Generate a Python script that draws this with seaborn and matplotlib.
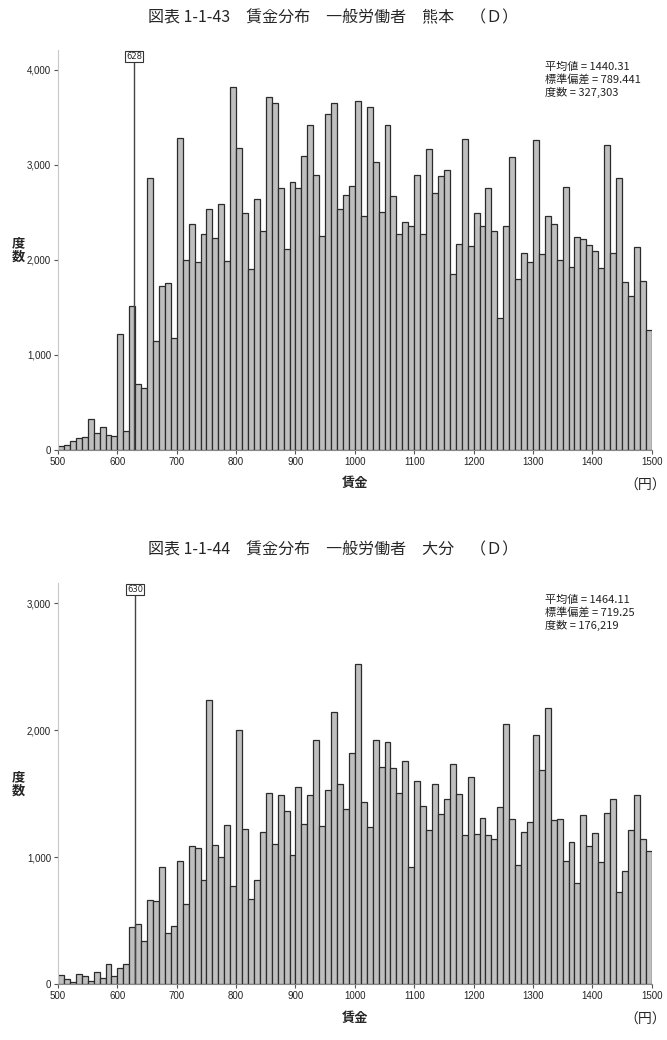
import numpy as np
import pandas as pd
import matplotlib
matplotlib.use('Agg')
import matplotlib.pyplot as plt
import seaborn as sns
from matplotlib.ticker import FuncFormatter

# wage bins (left edges, yen) shared by both panels
bin_left = list(range(500, 1500, 10))

# Kumamoto counts per 10-yen bin
kumamoto_counts = [
    40, 50, 100, 130, 140, 325, 180, 240, 155, 150,
    1220, 200, 1520, 690, 650, 2860, 1150, 1730, 1760, 1180,
    3280, 2000, 2380, 1980, 2270, 2540, 2230, 2590, 1990, 3820,
    3175, 2490, 1905, 2640, 2300, 3712, 3649, 2754, 2116, 2825,
    2754, 3098, 3421, 2898, 2249, 3537, 3656, 2537, 2688, 2782,
    3677, 2460, 3614, 3032, 2502, 3421, 2670, 2274, 2396, 2361,
    2891, 2274, 3165, 2705, 2888, 2947, 1853, 2168, 3270, 2144,
    2491, 2354, 2758, 2309, 1386, 2358, 3081, 1796, 2074, 1975,
    3263, 2063, 2467, 2375, 2004, 2765, 1930, 2246, 2218, 2158,
    2098, 1912, 3211, 2074, 2860, 1772, 1618, 2137, 1779, 1263,
]

# Oita counts per 10-yen bin
oita_counts = [
    75, 42, 21, 84, 66, 26, 94, 52, 157, 68,
    131, 157, 451, 472, 344, 664, 654, 921, 402, 459,
    974, 633, 1089, 1076, 822, 2239, 1094, 1005, 1255, 777,
    2000, 1220, 669, 822, 1197, 1504, 1102, 1491, 1360, 1018,
    1551, 1260, 1486, 1924, 1244, 1533, 2142, 1577, 1381, 1819,
    2522, 1436, 1241, 1921, 1714, 1908, 1703, 1504, 1761, 921,
    1604, 1402, 1215, 1577, 1341, 1462, 1732, 1501, 1173, 1630,
    1181, 1307, 1176, 1144, 1394, 2045, 1302, 940, 1197, 1281,
    1961, 1685, 2171, 1297, 1304, 974, 1123, 800, 1336, 1092,
    1192, 963, 1346, 1459, 724, 892, 1213, 1493, 1142, 1050,
]

titles = ['図表 1-1-43　賃金分布　一般労働者　熊本　（Ｄ）',
          '図表 1-1-44　賃金分布　一般労働者　大分　（Ｄ）']
stats = ['平均値 = 1440.31\n標準偏差 = 789.441\n度数 = 327,303',
         '平均値 = 1464.11\n標準偏差 = 719.25\n度数 = 176,219']
min_wage = [628, 630]

sns.set_style('white')
plt.rcParams['font.family'] = ['Noto Sans CJK JP', 'DejaVu Sans']

fig = plt.figure(figsize=(6.67, 10.40), dpi=100)

panels = [
    dict(rect=[0.087, 0.5673, 0.890, 0.3846], counts=kumamoto_counts, ymax=4210,
         yticks=[0, 1000, 2000, 3000, 4000], title_y=0.983, box_y=4137, line_top=4084),
    dict(rect=[0.087, 0.0536, 0.890, 0.3856], counts=oita_counts, ymax=3157,
         yticks=[0, 1000, 2000, 3000], title_y=0.471, box_y=3105, line_top=3065),
]

for i, p in enumerate(panels):
    ax = fig.add_axes(p['rect'])
    df = pd.DataFrame({'wage': np.array(bin_left) + 5, 'count': p['counts']})
    sns.histplot(data=df, x='wage', weights='count', binwidth=10, binrange=(500, 1500),
                 ax=ax, color='#bfbfbf', edgecolor='#2b2b2b', linewidth=0.9, alpha=1)
    ax.set_xlim(500, 1500)
    ax.set_ylim(0, p['ymax'])
    ax.set_xticks(range(500, 1501, 100))
    ax.set_yticks(p['yticks'])
    ax.yaxis.set_major_formatter(FuncFormatter(lambda v, pos: f'{int(v):,}'))
    ax.tick_params(axis='both', labelsize=7, length=3, width=0.8, color='#555555',
                   direction='out', pad=2, bottom=True, left=True, labelcolor='#222222')
    for lab in ax.get_xticklabels() + ax.get_yticklabels():
        lab.set_family('Liberation Sans')
    ax.set_xlabel('')
    ax.set_ylabel('')
    for s in ['top', 'right']:
        ax.spines[s].set_visible(False)
    ax.spines['left'].set_color('#c8c8c8')
    ax.spines['bottom'].set_color('#888888')
    ax.spines['left'].set_linewidth(0.8)
    ax.spines['bottom'].set_linewidth(0.8)

    # minimum wage reference line
    ref = min_wage[i]
    ax.plot([ref, ref], [0, p['line_top']], color='#444444', lw=1, clip_on=False)
    ax.text(ref, p['box_y'], str(ref), ha='center', va='center', fontsize=6,
            family='DejaVu Sans', clip_on=False,
            bbox=dict(boxstyle='square,pad=0.12', fc='white', ec='#333333', lw=0.8))

    ax.text(0.82, 0.97, stats[i], transform=ax.transAxes, ha='left', va='top',
            fontsize=8, linespacing=1.2, color='#222222')

    fig.text(0.5, p['title_y'], titles[i], ha='center', va='center', fontsize=11.5)
    # axis labels
    bx = ax.get_position()
    fig.text(0.027, bx.y0 + bx.height * 0.50, '度\n数', ha='center', va='center',
             fontsize=9.5, fontweight='bold', linespacing=1.0)
    fig.text(0.533, bx.y0 - 0.032, '賃金', ha='center', va='center',
             fontsize=9.5, fontweight='bold')
    fig.text(0.998, bx.y0 - 0.034, '（円）', ha='right', va='center', fontsize=10)

fig.savefig('out.png', dpi=100, facecolor='white')
